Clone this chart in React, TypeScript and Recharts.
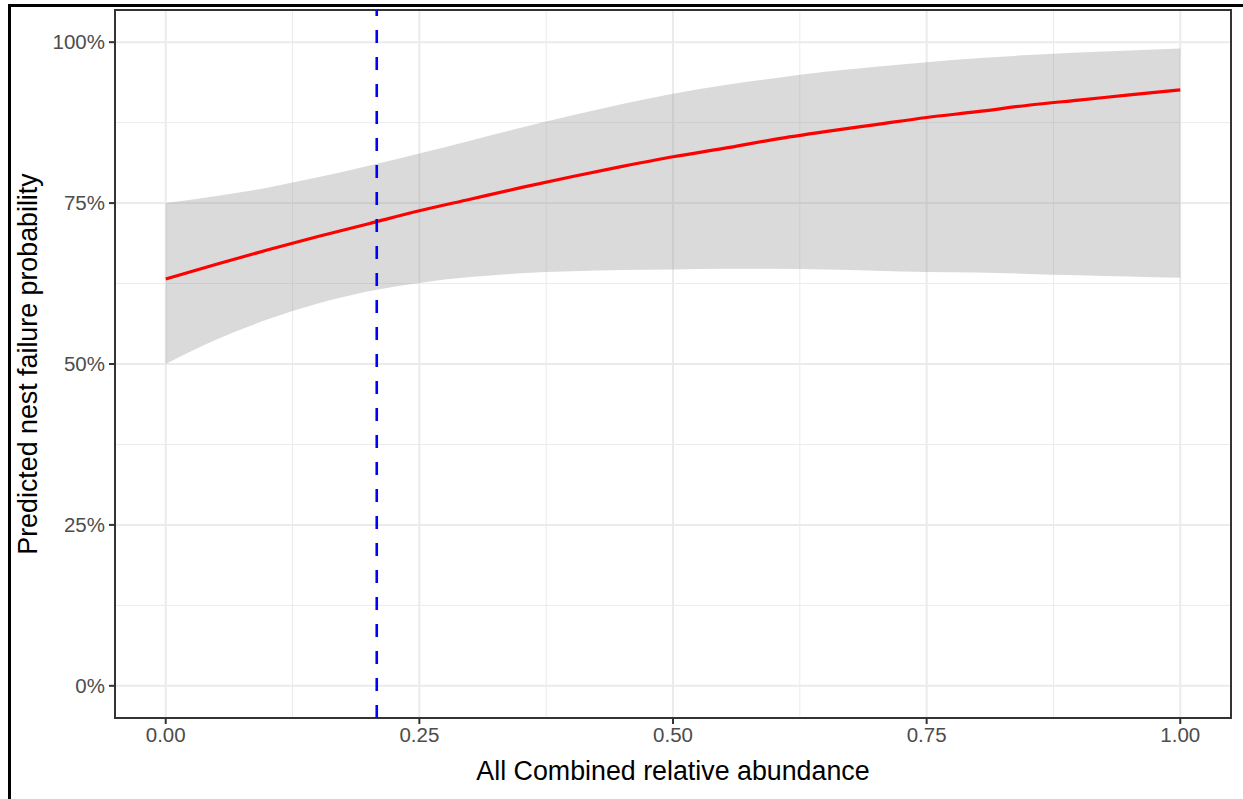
import React from 'react';
import {
  ComposedChart,
  Area,
  Line,
  XAxis,
  YAxis,
  CartesianGrid,
  ReferenceLine,
  ReferenceArea,
} from 'recharts';

// relative abundance (x) and model predictions in percent
const abundance = [0, 0.05, 0.1, 0.15, 0.2, 0.25, 0.3, 0.35, 0.4, 0.45, 0.5, 0.55, 0.6, 0.65, 0.7, 0.75, 0.8, 0.85, 0.9, 0.95, 1];
const fitted = [63.2, 65.5, 67.7, 69.8, 71.8, 73.8, 75.6, 77.4, 79.1, 80.7, 82.2, 83.5, 84.9, 86.1, 87.2, 88.3, 89.2, 90.2, 91.0, 91.8, 92.6];
const lower = [50.0, 53.8, 56.9, 59.4, 61.3, 62.6, 63.5, 64.1, 64.4, 64.6, 64.7, 64.8, 64.8, 64.7, 64.5, 64.3, 64.2, 64.0, 63.8, 63.6, 63.4];
const upper = [75.0, 76.1, 77.4, 79.0, 80.8, 82.7, 84.7, 86.7, 88.6, 90.4, 92.0, 93.3, 94.4, 95.4, 96.2, 96.9, 97.5, 98.0, 98.4, 98.7, 99.0];

const cutoff = 0.208;

const xTicks = [0, 0.25, 0.5, 0.75, 1];
const xMinor = [0.125, 0.375, 0.625, 0.875];
const yTicks = [0, 25, 50, 75, 100];
const yMinor = [12.5, 37.5, 62.5, 87.5];

const data = abundance.map((x, i) => ({
  x,
  fit: fitted[i],
  band: [lower[i], upper[i]],
}));

const font = 'Arial, "Liberation Sans", Helvetica, sans-serif';
const tickStyle = { fontSize: 20.5, fill: '#4D4D4D', fontFamily: font };

export default function App() {
  return (
    <div style={{ position: 'absolute', left: 0, top: 0, width: 1243, height: 799, background: '#fff', overflow: 'hidden' }}>
      <div
        style={{
          position: 'absolute',
          left: 8,
          top: 4,
          width: 1243,
          height: 799,
          borderLeft: '3px solid #000',
          borderTop: '3px solid #000',
        }}
      />
      <div style={{ position: 'absolute', left: 0, top: 0 }}>
        <ComposedChart width={1243} height={799} data={data} margin={{ top: 10, right: 12, left: 0, bottom: 0 }}>
          <CartesianGrid
            stroke="#EBEBEB"
            strokeWidth={1}
            verticalValues={xMinor}
            horizontalValues={yMinor}
          />
          <CartesianGrid
            stroke="#EBEBEB"
            strokeWidth={2}
            verticalValues={xTicks}
            horizontalValues={yTicks}
          />
          <XAxis
            dataKey="x"
            type="number"
            domain={[-0.05, 1.05]}
            ticks={xTicks}
            allowDataOverflow
            height={81}
            tickFormatter={(v: number) => v.toFixed(2)}
            tick={tickStyle}
            tickSize={6}
            tickMargin={3}
            tickLine={{ stroke: '#333', strokeWidth: 2 }}
            axisLine={false}
          />
          <YAxis
            type="number"
            domain={[-5, 105]}
            ticks={yTicks}
            allowDataOverflow
            width={115}
            tickFormatter={(v: number) => `${v}%`}
            tick={tickStyle}
            tickSize={6}
            tickMargin={4}
            tickLine={{ stroke: '#333', strokeWidth: 2 }}
            axisLine={false}
          />
          <Area
            dataKey="band"
            type="monotone"
            stroke="none"
            fill="#999999"
            fillOpacity={0.36}
            isAnimationActive={false}
          />
          <Line
            dataKey="fit"
            type="monotone"
            stroke="#FF0000"
            strokeWidth={3.2}
            dot={false}
            activeDot={false}
            isAnimationActive={false}
          />
          <ReferenceLine x={cutoff} stroke="#0000FF" strokeWidth={2.6} strokeDasharray="13 14" />
          <ReferenceArea
            x1={-0.05}
            x2={1.05}
            y1={-5}
            y2={105}
            fill="none"
            fillOpacity={0}
            stroke="#333333"
            strokeWidth={2}
            ifOverflow="visible"
          />
        </ComposedChart>
      </div>
      <div
        style={{
          position: 'absolute',
          left: 115,
          width: 1116,
          top: 758,
          textAlign: 'center',
          fontFamily: font,
          fontSize: 26.8,
          lineHeight: 1,
          color: '#000',
          whiteSpace: 'nowrap',
        }}
      >
        All Combined relative abundance
      </div>
      <div
        style={{
          position: 'absolute',
          left: 28,
          top: 364,
          width: 700,
          transform: 'translate(-50%, -50%) rotate(-90deg)',
          textAlign: 'center',
          fontFamily: font,
          fontSize: 26.8,
          lineHeight: 1,
          color: '#000',
          whiteSpace: 'nowrap',
        }}
      >
        Predicted nest failure probability
      </div>
    </div>
  );
}
